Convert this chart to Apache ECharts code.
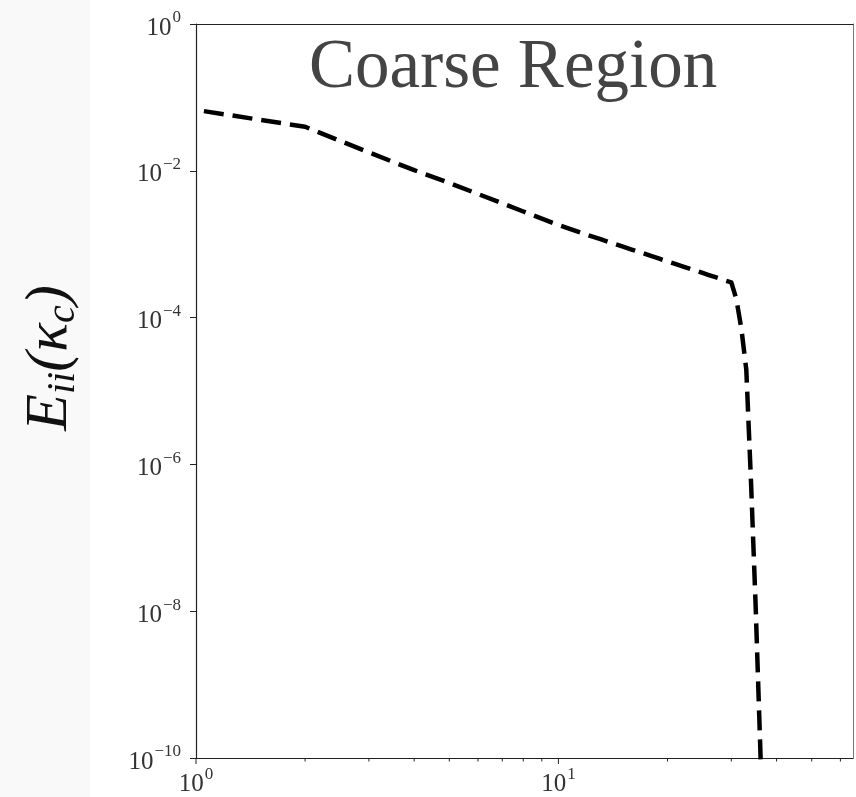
<!DOCTYPE html>
<html>
<head>
<meta charset="utf-8">
<script src="https://cdn.jsdelivr.net/npm/echarts@6/dist/echarts.min.js"></script>
<style>
  html, body { margin: 0; padding: 0; background: #ffffff; }
  #chart { width: 856px; height: 797px; }
</style>
</head>
<body>
<div id="chart"></div>
<script>
// Energy spectrum in the coarse region: wavenumber k vs E_ii(kappa_c)
const wavenumbers = [1, 2, 3, 4, 5, 6, 7, 8, 9, 10, 11, 12, 13, 14, 15, 16, 17, 18, 19, 20,
  21, 22, 23, 24, 25, 26, 27, 28, 29, 30, 31, 32, 33, 34, 35, 36, 37];
const energy = [0.0676, 0.0398, 0.0178, 0.0102, 0.00684, 0.00483, 0.00361, 0.00279, 0.00223, 0.00183,
  0.00155, 0.00134, 0.00118, 0.00104, 9.33e-4, 8.39e-4, 7.62e-4, 6.93e-4, 6.34e-4, 5.83e-4,
  5.38e-4, 5.00e-4, 4.65e-4, 4.34e-4, 4.06e-4, 3.80e-4, 3.58e-4, 3.37e-4, 3.18e-4, 3.02e-4,
  1.76e-4, 6.9e-5, 1.95e-5, 5.8e-7, 1.26e-8, 1.8e-10, 2.5e-12];

// Axis ranges and tick positions
const xRange = [1, 65];
const yRange = [1e-10, 1];
const xMajorTicks = [1, 10];
const xMinorTicks = [2, 3, 4, 5, 6, 7, 8, 9, 20, 30, 40, 50, 60];

const titleText = 'Coarse Region';

const supMap = { '-': '\u2212' };
function powLabel(v) {
  const e = Math.log10(v);
  const r = Math.round(e);
  if (Math.abs(e - r) > 1e-6) return '';
  const s = String(r).split('').map(c => supMap[c] || c).join('');
  return '{b|10}{s|' + s + '}';
}

const labelRich = {
  b: { fontFamily: 'Liberation Serif', fontSize: 25, color: '#333', padding: [8, 0, 0, 0] },
  s: { fontFamily: 'Liberation Serif', fontSize: 17, color: '#333', padding: [0, 0, 12, 1] }
};

const chart = echarts.init(document.getElementById('chart'), null, { renderer: 'canvas' });

const tickData = xMajorTicks.map(v => [v, yRange[0], 6]).concat(xMinorTicks.map(v => [v, yRange[0], 3.5]));

const option = {
  backgroundColor: '#ffffff',
  animation: false,
  grid: { left: 196, right: 2, top: 24, bottom: 38, containLabel: false },
  graphic: [
    { type: 'rect', z: -10, silent: true, shape: { x: 0, y: 0, width: 90, height: 797 }, style: { fill: '#f9f9f9' } },
    {
      type: 'text', left: 309, top: 34, silent: true,
      style: { text: titleText, fontFamily: 'Liberation Serif', fontSize: 69, fill: '#444' }
    },
    {
      type: 'text', x: 50, y: 358, rotation: Math.PI / 2, silent: true,
      style: {
        text: '{m|E}{sub|ii}{m|(\u03BA}{sub|c}{m|)}',
        align: 'center', verticalAlign: 'middle',
        rich: {
          m: { fontFamily: 'Liberation Serif', fontStyle: 'italic', fontSize: 60, fill: '#111', lineHeight: 60 },
          sub: { fontFamily: 'Liberation Serif', fontStyle: 'italic', fontSize: 40, fill: '#111', padding: [26, 0, 0, 0] }
        }
      }
    }
  ],
  xAxis: [
    {
      type: 'log', logBase: 10, min: xRange[0], max: xRange[1],
      axisLine: { show: true, lineStyle: { color: '#222', width: 1.2 } },
      axisTick: { show: false },
      splitLine: { show: false },
      axisLabel: { margin: 6, formatter: powLabel, rich: labelRich, showMinLabel: true, showMaxLabel: true }
    },
    {
      type: 'log', logBase: 10, min: xRange[0], max: xRange[1], position: 'top',
      axisLine: { show: true, lineStyle: { color: '#222', width: 1.2 } },
      axisTick: { show: false }, axisLabel: { show: false }, splitLine: { show: false }
    }
  ],
  yAxis: [
    {
      type: 'log', logBase: 10, min: yRange[0], max: yRange[1], interval: 2,
      axisLine: { show: true, lineStyle: { color: '#222', width: 1.2 } },
      axisTick: { show: true, inside: false, length: 6, lineStyle: { color: '#222', width: 1 } },
      splitLine: { show: false },
      axisLabel: { margin: 15, formatter: powLabel, rich: labelRich, showMinLabel: true, showMaxLabel: true }
    },
    {
      type: 'log', logBase: 10, min: yRange[0], max: yRange[1], position: 'right',
      axisLine: { show: true, lineStyle: { color: '#777', width: 1 } },
      axisTick: { show: false }, axisLabel: { show: false }, splitLine: { show: false }
    }
  ],
  series: [
    {
      type: 'line',
      data: wavenumbers.map((k, i) => [k, energy[i]]),
      showSymbol: false,
      symbol: 'none',
      clip: true,
      lineStyle: { color: '#000', width: 4.5, type: [20, 9], dashOffset: 21, cap: 'butt', join: 'round' },
      z: 5
    },
    {
      type: 'custom',
      clip: false,
      silent: true,
      data: tickData,
      renderItem: function (params, api) {
        const p = api.coord([api.value(0), api.value(1)]);
        const len = api.value(2);
        return {
          type: 'line',
          shape: { x1: p[0], y1: p[1], x2: p[0], y2: p[1] + len },
          style: { stroke: '#222', lineWidth: 1 }
        };
      }
    }
  ]
};

chart.setOption(option);
</script>
</body>
</html>
